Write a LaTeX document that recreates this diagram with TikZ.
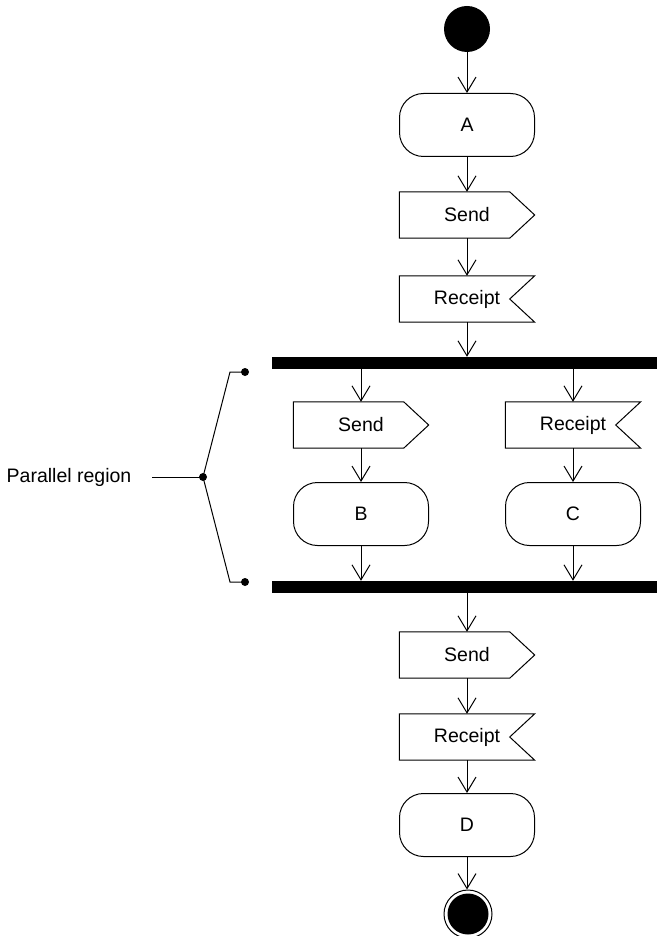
\documentclass[tikz,border=0pt]{standalone}
\usepackage{fontspec}
\setmainfont{Liberation Sans}
\usetikzlibrary{arrows.meta}
\tikzset{
  initial/.style={circle, fill=black, minimum size=46pt, inner sep=0pt},
  final/.style={circle, draw, fill=white, line width=1pt, minimum size=48pt, inner sep=0pt},
  action/.style={rectangle, draw, rounded corners=24pt, line width=1pt,
    minimum width=135pt, minimum height=63pt, inner sep=0pt},
  sendbox/.style={minimum width=135pt, minimum height=46pt, inner sep=0pt,
    append after command={\pgfextra{\draw[line width=1pt]
      (\tikzlastnode.north west) -- ([xshift=-25pt]\tikzlastnode.north east)
      -- (\tikzlastnode.east) -- ([xshift=-25pt]\tikzlastnode.south east)
      -- (\tikzlastnode.south west) -- cycle;}}},
  receiptbox/.style={minimum width=135pt, minimum height=46pt, inner sep=0pt,
    append after command={\pgfextra{\draw[line width=1pt]
      (\tikzlastnode.north west) -- (\tikzlastnode.north east)
      -- ([xshift=-25pt]\tikzlastnode.east) -- (\tikzlastnode.south east)
      -- (\tikzlastnode.south west) -- cycle;}}},
  syncbar/.style={rectangle, fill=black, minimum width=385pt, minimum height=12pt, inner sep=0pt},
  flow/.style={-{Straight Barb[length=15pt, width=18pt]}, line width=1pt},
  line/.style={line width=1pt}
}
\begin{document}
\begin{tikzpicture}[x=1pt, y=-1pt, font=\fontsize{19.5}{23}\selectfont]
  \useasboundingbox (0,0) rectangle (657,936);

  % Main column
  \node[initial] (start) at (467,29) {};
  \node[action] (a) at (467,125) {A};
  \node[sendbox] (send1) at (467,215) {Send};
  \node[receiptbox] (recv1) at (467,299) {Receipt};

  % Fork and join bars
  \node[syncbar] (fork) at (464.5,363) {};
  \node[syncbar] (join) at (464.5,587) {};

  % Parallel branches
  \node[sendbox] (send2) at (361,425) {Send};
  \node[action] (b) at (361,514) {B};
  \node[receiptbox] (recv2) at (573,425) {Receipt};
  \node[action] (c) at (573,514) {C};

  % After join
  \node[sendbox] (send3) at (467,655) {Send};
  \node[receiptbox] (recv3) at (467,737) {Receipt};
  \node[action] (d) at (467,825) {D};
  \node[final] (stop) at (468,914) {};
  \fill (stop) circle (20.5pt);

  % Connectors
  \draw[flow] (start) -- (a);
  \draw[flow] (a) -- (send1);
  \draw[flow] (send1) -- (recv1);
  \draw[flow] (recv1.south) -- (recv1.south |- fork.north);
  \draw[flow] (fork.south -| send2.north) -- (send2.north);
  \draw[flow] (fork.south -| recv2.north) -- (recv2.north);
  \draw[flow] (send2) -- (b);
  \draw[flow] (recv2) -- (c);
  \draw[flow] (b.south) -- (b.south |- join.north);
  \draw[flow] (c.south) -- (c.south |- join.north);
  \draw[flow] (join.south -| send3.north) -- (send3.north);
  \draw[flow] (send3) -- (recv3);
  \draw[flow] (recv3) -- (d);
  \draw[flow] (d.south) -- (d.south |- stop.north);

  % Parallel region note
  \node[inner sep=0pt] (region) at (69,477) {Parallel region};
  \coordinate (tail) at (152,477);
  \coordinate (brace) at (203,477);
  \coordinate (forkbend) at (230,372);
  \coordinate (joinbend) at (230,582);
  \coordinate (forkmark) at (245,372);
  \coordinate (joinmark) at (245,582);
  \draw[line] (tail) -- (brace);
  \draw[line] (brace) -- (forkbend) -- (forkmark);
  \draw[line] (brace) -- (joinbend) -- (joinmark);
  \fill (brace) circle (4pt);
  \fill (forkmark) circle (4pt);
  \fill (joinmark) circle (4pt);
\end{tikzpicture}
\end{document}
